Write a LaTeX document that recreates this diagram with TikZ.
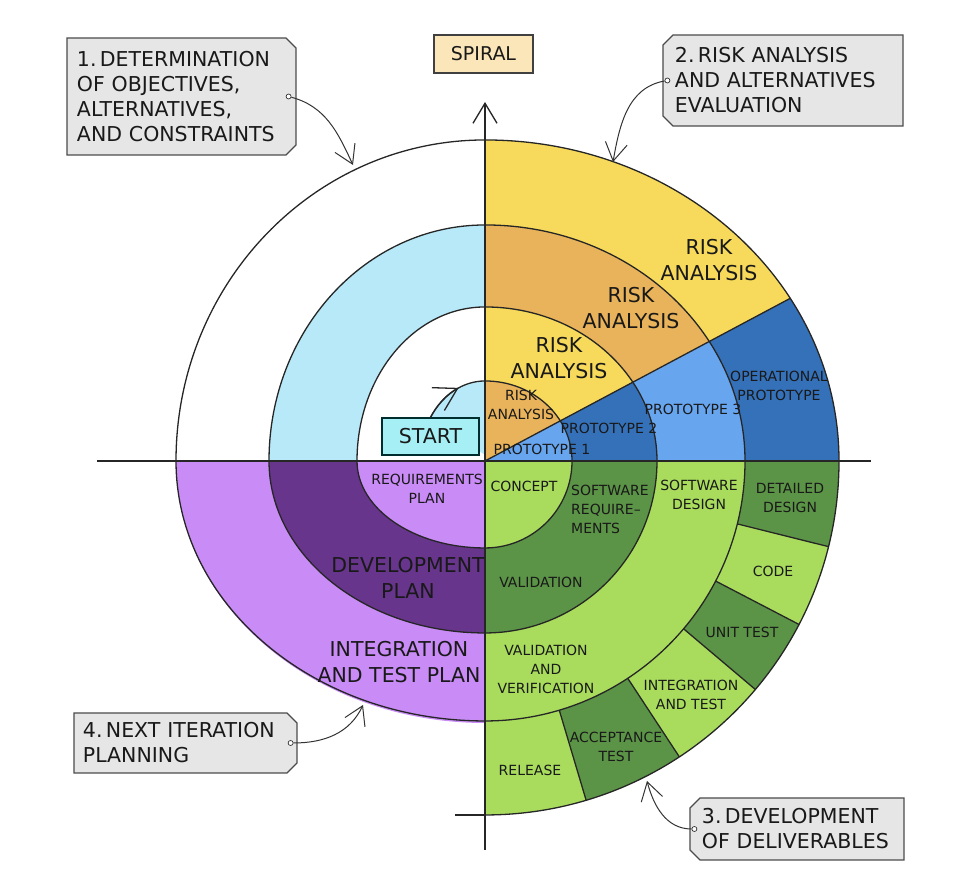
\documentclass[tikz,border=0pt]{standalone}
\usepackage{fontspec}
\setmainfont{DejaVu Sans}
\usepackage{tikz}
\usetikzlibrary{arrows.meta, shapes.misc, positioning, calc}

\definecolor{riskyellow}{HTML}{F7DA5B}
\definecolor{riskorange}{HTML}{E8B35A}
\definecolor{protolight}{HTML}{67A5EF}
\definecolor{protodark}{HTML}{3571B9}
\definecolor{planlight}{HTML}{C98BF6}
\definecolor{plandark}{HTML}{67358B}
\definecolor{devlight}{HTML}{A9DC5D}
\definecolor{devdark}{HTML}{5B9446}
\definecolor{objcyan}{HTML}{B8E9F8}
\definecolor{startcyan}{HTML}{A6F0F5}
\definecolor{notegray}{HTML}{E6E6E6}
\definecolor{spiraltan}{HTML}{FAE6B9}

\begin{document}
\begin{tikzpicture}[
  x=1pt, y=1pt,
  >={Straight Barb[length=18pt, width=22pt]},
  every node/.style={text=black!90},
  rim/.style={line width=1.3pt, black!85},
  callout/.style={line width=1pt, black!80, ->},
  big/.style={font=\fontsize{20.5}{26}\selectfont, align=center, inner sep=0pt},
  small/.style={font=\fontsize{14}{19}\selectfont, align=center, inner sep=0pt},
  note/.style={chamfered rectangle, chamfered rectangle xsep=5pt, chamfered rectangle ysep=5pt,
    draw=black!70, fill=notegray, line width=1.2pt, align=left, inner ysep=0pt,
    font=\fontsize{20.5}{25}\selectfont},
  pin/.style={circle, draw=black!80, fill=white, line width=0.7pt, inner sep=0pt, minimum size=5pt},
  tag/.style={draw=black!75, line width=1.2pt, inner sep=0pt},
]
  \useasboundingbox (-485,-413) rectangle (469,461);

  % upper right: risk analysis over prototypes
  \foreach \rx/\ry/\col in {354/321/riskyellow, 260/236/riskorange, 172/154/riskyellow, 87/80/riskorange}
    \fill[\col] (0,0) -- (0,\ry) arc[start angle=90, end angle=0, x radius=\rx, y radius=\ry] -- cycle;
  \begin{scope}
    \clip (0,0) -- (400,213.2) -- (400,0) -- cycle;
    \foreach \rx/\ry/\col in {354/321/protodark, 260/236/protolight, 172/154/protodark, 87/80/protolight}
      \fill[\col] (0,0) -- (0,\ry) arc[start angle=90, end angle=0, x radius=\rx, y radius=\ry] -- cycle;
  \end{scope}

  % upper left: objectives
  \fill[objcyan] (0,0) -- (-216,0) arc[start angle=180, end angle=90, x radius=216, y radius=236] -- cycle;
  \fill[white] (0,0) -- (-128,0) arc[start angle=180, end angle=90, x radius=128, y radius=154] -- cycle;
  \fill[objcyan] (0,6) -- (0,80) arc[start angle=90, end angle=147, x radius=65, y radius=80] -- cycle;

  % lower left: plans
  \foreach \rx/\ry/\col in {309/262/planlight, 216/172/plandark, 128/87/planlight}
    \fill[\col] (0,0) -- (-\rx,0) arc[start angle=180, end angle=270, x radius=\rx, y radius=\ry] -- cycle;

  % lower right: development
  \fill[devlight] (0,0) -- (354,0) arc[start angle=0, end angle=-90, radius=354] -- cycle;
  \foreach \a/\b in {0/-14, -27.5/-40.2, -56.7/-73.4}
    \fill[devdark] (0,0) -- (\a:354) arc[start angle=\a, end angle=\b, radius=354] -- cycle;
  \foreach \r/\col in {260/devlight, 172/devdark, 87/devlight}
    \fill[\col] (0,0) -- (\r,0) arc[start angle=0, end angle=-90, radius=\r] -- cycle;

  % axes
  \draw[rim] (-388,0) -- (386,0);
  \draw[rim, ->, >={Straight Barb[length=20pt, width=24pt]}] (0,-389) -- (0,359);
  \draw[rim] (-30,-354) -- (0,-354);

  \node[tag, draw=teal!35!black, fill=startcyan, minimum width=97pt, minimum height=37pt,
    font=\fontsize{20.5}{25}\selectfont] (start) at (-54.5,24.5) {START};

  % spiral
  \draw[rim] (start.north) arc[start angle=147, end angle=90, x radius=65, y radius=80]
    arc[start angle=90, end angle=0, x radius=87, y radius=80]
    arc[start angle=0, end angle=-90, radius=87]
    arc[start angle=-90, end angle=-180, x radius=128, y radius=87]
    arc[start angle=180, end angle=90, x radius=128, y radius=154]
    arc[start angle=90, end angle=0, x radius=172, y radius=154]
    arc[start angle=0, end angle=-90, radius=172]
    arc[start angle=-90, end angle=-180, x radius=216, y radius=172]
    arc[start angle=180, end angle=90, x radius=216, y radius=236]
    arc[start angle=90, end angle=0, x radius=260, y radius=236]
    arc[start angle=0, end angle=-90, radius=260]
    arc[start angle=-90, end angle=-180, x radius=309, y radius=260]
    arc[start angle=180, end angle=90, x radius=309, y radius=321]
    arc[start angle=90, end angle=0, x radius=354, y radius=321]
    arc[start angle=0, end angle=-90, radius=354];
  \draw[rim, ->, >={Straight Barb[length=22pt, width=26pt]}] (start.north)
    arc[start angle=147, end angle=114, x radius=65, y radius=80];
  \draw[rim] (0,0) -- (305.1,162.6);
  \foreach \a in {-14, -27.5, -40.2, -56.7, -73.4}
    \draw[rim] (\a:260) -- (\a:354);

  % labels, upper right
  \node[big] (risk4) at (224,201) {RISK\\ANALYSIS};
  \node[big] (risk3) at (146,153) {RISK\\ANALYSIS};
  \node[big] (risk2) at (74,103) {RISK\\ANALYSIS};
  \node[small] (risk1) at (36,56) {RISK\\ANALYSIS};
  \node[small] (proto1) at (57,12) {PROTOTYPE 1};
  \node[small] (proto2) at (124,33) {PROTOTYPE 2};
  \node[small] (proto3) at (208,52) {PROTOTYPE 3};
  \node[small] (opproto) at (294,75) {OPERATIONAL\\PROTOTYPE};

  % labels, lower left
  \node[small] (reqplan) at (-58,-28) {REQUIREMENTS\\PLAN};
  \node[big, text depth=0pt] (devplan) at (-77,-117) {DEVELOPMENT\\PLAN};
  \node[big] (itplan) at (-86,-201) {INTEGRATION\\AND TEST PLAN};

  % labels, lower right
  \node[small] (concept) at (39,-25) {CONCEPT};
  \node[small, align=left, anchor=west] (swreq) at (86,-48) {SOFTWARE\\REQUIRE–\\MENTS};
  \node[small] (valid) at (56,-121) {VALIDATION};
  \node[small] (swdesign) at (214,-34) {SOFTWARE\\DESIGN};
  \node[small] (valver) at (61,-208) {VALIDATION\\AND\\VERIFICATION};
  \foreach \x/\y/\lbl [count=\n] in {305/-37/{DETAILED\\DESIGN}, 288/-110/{CODE}, 257/-171/{UNIT TEST},
      206/-234/{INTEGRATION\\AND TEST}, 131/-286/{ACCEPTANCE\\TEST}, 45/-309/{RELEASE}}
    \node[small] (stage\n) at (\x,\y) {\lbl};

  % title
  \node[tag, fill=spiraltan, minimum width=99pt, minimum height=38pt,
    font=\fontsize{19}{23}\selectfont] (spiral) at (-1.5,407) {SPIRAL};

  % callouts
  \node[note, chamfered rectangle corners={north east, south east}, inner xsep=5pt,
    text width=209pt, minimum height=117pt] (objectives) at (-303.5,364.5)
    {1.\,DETERMINATION\\OF OBJECTIVES,\\ALTERNATIVES,\\AND CONSTRAINTS};
  \node[note, chamfered rectangle corners={north west, south west}, inner xsep=7pt,
    text width=216pt, minimum height=91pt] (riskeval) at (298,380.5)
    {2.\,RISK ANALYSIS\\AND ALTERNATIVES\\EVALUATION};
  \node[note, chamfered rectangle corners={north west, south west}, inner xsep=7pt,
    text width=190pt, minimum height=62pt] (deliver) at (312,-368)
    {3.\,DEVELOPMENT\\OF DELIVERABLES};
  \node[note, chamfered rectangle corners={north east, south east}, inner xsep=4pt,
    text width=205pt, minimum height=60pt] (nextiter) at (-299.5,-282)
    {4.\,NEXT ITERATION\\PLANNING};

  \node[pin] (pinA) at ([xshift=-8pt]objectives.east) {};
  \node[pin] (pinB) at ([xshift=5pt]riskeval.west) {};
  \node[pin] (pinC) at ([xshift=5pt]deliver.west) {};
  \node[pin] (pinD) at ([xshift=-7pt]nextiter.east) {};
  \coordinate (hitA) at (-132,296);
  \coordinate (hitB) at (128,299);
  \coordinate (hitC) at (162,-320);
  \coordinate (hitD) at (-122,-244);
  \draw[callout] (pinA) to[out=-15, in=115] (hitA);
  \draw[callout] (pinB) to[out=190, in=80] (hitB);
  \draw[callout] (pinC) to[out=180, in=-75] (hitC);
  \draw[callout] (pinD) to[out=0, in=-115] (hitD);
\end{tikzpicture}
\end{document}
